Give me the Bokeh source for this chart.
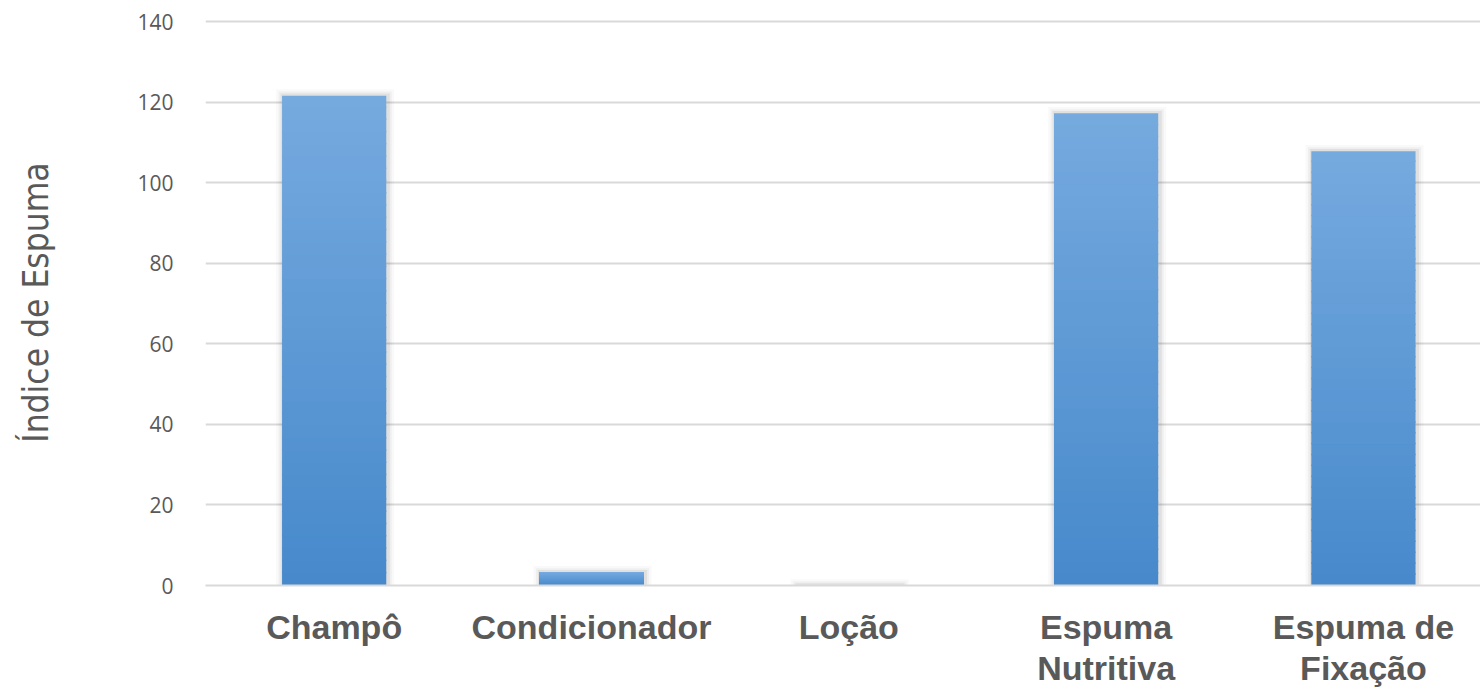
import numpy as np
from bokeh.plotting import figure
from bokeh.models import Range1d, FixedTicker, ColumnDataSource
from bokeh.embed import file_html
from bokeh.resources import INLINE

# ---- data ----
categories = ["Champô", "Condicionador", "Loção", "Espuma Nutritiva", "Espuma de Fixação"]
tick_labels = ["Champô", "Condicionador", "Loção", "Espuma\nNutritiva", "Espuma de\nFixação"]
values = [121.6, 3.3, 0.0, 117.2, 107.8]
y_ticks = [0, 20, 40, 60, 80, 100, 120, 140]
y_label = "Índice de Espuma"

# ---- styling ----
BAR_W = 0.405
TOP_RGB = np.array([0x76, 0xAA, 0xDF])
BOT_RGB = np.array([0x46, 0x89, 0xCB])
N_SLICES = 40
PX = 140 / 564.0  # data units per screen pixel on y

xs = np.arange(len(categories)) + 0.5

p = figure(width=1480, height=692, output_backend="svg", toolbar_location=None,
           x_range=Range1d(0, 4.955), y_range=Range1d(0, 140 + 2 * PX),
           min_border_left=205, min_border_right=0, min_border_top=19,
           min_border_bottom=107, outline_line_color=None)
p.background_fill_color = "white"
p.border_fill_color = "white"

# shadows (soft, layered)
for grow, a in [(14, 0.025), (9, 0.04), (5, 0.06)]:
    tops = [v + grow * 0.45 * PX for v in values]
    src = ColumnDataSource(dict(x=xs + 0.004, top=tops, bottom=[-grow * 0.3 * PX] * len(xs)))
    p.vbar(x="x", width=BAR_W + grow / 257.5, top="top", bottom="bottom", source=src,
           fill_color="black", fill_alpha=a, line_color=None)

# gradient bars built from thin slices (overlapping to hide seams)
sx, sb, st, sc = [], [], [], []
for x, v in zip(xs, values):
    if v <= 0:
        continue
    edges = np.linspace(0, v, N_SLICES + 1)
    for k in range(N_SLICES):
        f = (k + 0.5) / N_SLICES  # 0 bottom -> 1 top
        rgb = (BOT_RGB + (TOP_RGB - BOT_RGB) * f).round().astype(int)
        sx.append(x)
        sb.append(edges[k])
        st.append(min(edges[k + 1] + 1.5 * PX, v))
        sc.append("#%02x%02x%02x" % tuple(rgb))
p.vbar(x=sx, width=BAR_W, bottom=sb, top=st, fill_color=sc, line_color=None)

# axes
p.xaxis.ticker = FixedTicker(ticks=list(xs))
p.xaxis.major_label_overrides = {float(x): lab for x, lab in zip(xs, tick_labels)}
p.xaxis.major_label_text_font = "Liberation Sans"
p.xaxis.major_label_text_font_style = "bold"
p.xaxis.major_label_text_font_size = "34px"
p.xaxis.major_label_text_color = "#595959"
p.xaxis.major_label_text_line_height = 1.1
p.xaxis.major_label_standoff = 16
p.xaxis.major_tick_line_color = None
p.xaxis.minor_tick_line_color = None
p.xaxis.axis_line_color = "#d9d9d9"
p.xaxis.axis_line_width = 2

p.yaxis.ticker = FixedTicker(ticks=y_ticks)
p.yaxis.major_label_text_font = "Open Sans"
p.yaxis.major_label_text_font_size = "21px"
p.yaxis.major_label_text_color = "#595959"
p.yaxis.major_label_standoff = 26
p.yaxis.major_tick_line_color = None
p.yaxis.minor_tick_line_color = None
p.yaxis.axis_line_color = None
p.yaxis.axis_label = y_label
p.yaxis.axis_label_text_font = "DejaVu Sans Condensed"
p.yaxis.axis_label_text_font_style = "normal"
p.yaxis.axis_label_text_font_size = "35px"
p.yaxis.axis_label_text_color = "#595959"
p.yaxis.axis_label_standoff = 78

p.xgrid.grid_line_color = None
p.ygrid.grid_line_color = "#d9d9d9"
p.ygrid.grid_line_width = 2

open("out.html", "w").write(file_html(p, INLINE))
